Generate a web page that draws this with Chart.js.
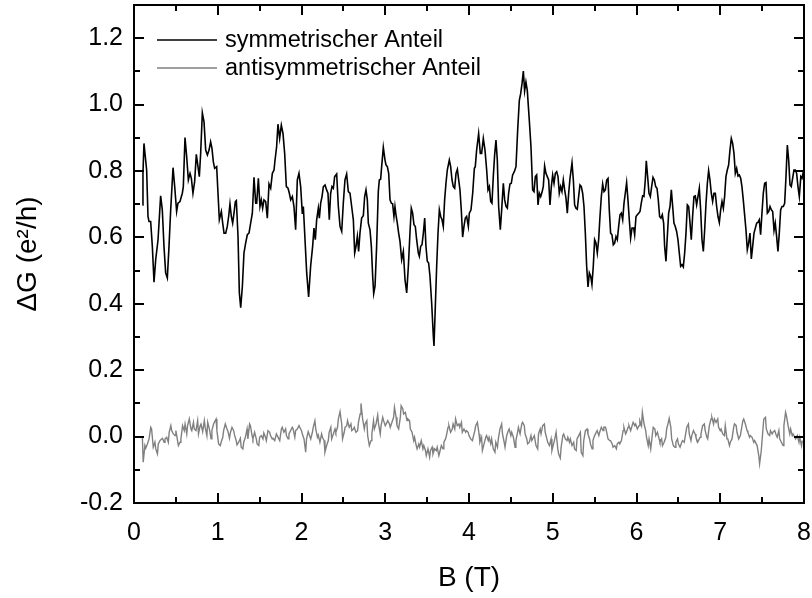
<!DOCTYPE html>
<html>
<head>
<meta charset="utf-8">
<script src="https://cdn.jsdelivr.net/npm/chart.js@4.4.1/dist/chart.umd.min.js"></script>
<style>
  html, body { margin: 0; padding: 0; background: #fff; }
  canvas { display: block; }
</style>
</head>
<body>
<canvas id="leitwertChart" width="812" height="598"></canvas>
<script>
const FONT = '"Liberation Sans", Arial, sans-serif';

// Achsen
const xTicks = [0, 1, 2, 3, 4, 5, 6, 7, 8];
const yTicks = [-0.2, 0, 0.2, 0.4, 0.6, 0.8, 1.0, 1.2];

// symmetrischer Anteil: B (T) und ΔG (e²/h)
const bSym = [
  0.100,0.107,0.119,0.151,0.167,0.179,0.199,0.219,0.239,0.259,
  0.287,0.318,0.338,0.358,0.378,0.398,0.418,0.438,0.466,0.486,
  0.509,0.525,0.549,0.577,0.589,0.609,0.629,0.649,0.669,0.685,
  0.704,0.724,0.744,0.764,0.780,0.796,0.816,0.836,0.856,0.876,
  0.896,0.915,0.931,0.947,0.963,0.987,1.003,1.019,1.043,1.059,
  1.075,1.095,1.114,1.130,1.146,1.162,1.178,1.194,1.210,1.222,
  1.242,1.258,1.274,1.294,1.313,1.333,1.353,1.373,1.393,1.413,
  1.433,1.453,1.465,1.485,1.504,1.520,1.536,1.552,1.572,1.592,
  1.612,1.632,1.652,1.672,1.684,1.703,1.719,1.739,1.759,1.779,
  1.799,1.819,1.839,1.855,1.871,1.891,1.910,1.930,1.950,1.970,
  1.990,2.010,
  2.022,2.042,2.062,2.085,2.109,2.133,2.149,2.165,2.181,2.201,
  2.213,2.229,2.245,2.261,2.281,2.300,2.316,2.332,2.348,2.364,
  2.380,2.396,2.420,2.440,2.460,2.480,2.499,2.519,2.539,2.559,
  2.579,2.599,2.619,2.635,2.651,2.667,2.682,2.698,2.718,2.738,
  2.754,2.770,2.786,2.798,2.818,2.834,2.850,2.862,2.878,2.897,
  2.917,2.929,2.945,2.957,2.977,2.997,3.009,3.025,3.041,3.057,
  3.073,3.088,3.104,3.116,3.128,3.144,3.160,3.176,3.196,3.216,
  3.236,3.256,3.276,3.295,3.311,3.327,3.343,3.359,3.375,3.395,
  3.407,3.423,3.439,3.455,3.471,3.486,3.502,3.518,3.534,3.554,
  3.574,3.582,3.598,3.614,3.630,3.646,3.662,3.678,3.693,3.709,
  3.725,3.741,3.765,3.781,3.797,3.813,3.829,3.845,3.861,3.877,
  3.892,3.908,3.924,3.940,3.956,3.972,3.992,
  4.004,4.024,4.044,4.064,4.075,4.091,4.115,4.135,4.151,4.171,
  4.191,4.211,4.227,4.243,4.259,4.274,4.290,4.306,4.322,4.338,
  4.354,4.374,4.390,4.410,4.426,4.442,4.458,4.473,4.489,4.505,
  4.521,4.541,4.561,4.581,4.601,4.617,4.633,4.649,4.664,4.680,
  4.696,4.720,4.740,4.760,4.776,4.792,4.808,4.824,4.840,4.856,
  4.871,4.887,4.903,4.919,4.935,4.951,4.967,4.983,4.999,5.015,
  5.031,5.047,5.063,5.078,5.094,5.110,5.126,5.142,5.158,5.174,
  5.190,5.206,5.230,5.246,5.261,5.277,5.293,5.309,5.325,5.341,
  5.357,5.373,5.389,5.405,5.421,5.437,5.453,5.468,5.484,5.500,
  5.516,5.532,5.548,5.564,5.580,5.596,5.612,5.628,5.644,5.660,
  5.675,5.691,5.707,5.723,5.739,5.755,5.771,5.787,5.803,5.819,
  5.835,5.851,5.866,5.882,5.898,5.914,5.930,5.946,
  5.966,5.978,5.994,6.010,6.026,6.042,6.057,6.073,6.089,6.105,
  6.117,6.133,6.149,6.165,6.181,6.197,6.213,6.229,6.245,6.260,
  6.276,6.292,6.308,6.324,6.336,6.352,6.368,6.384,6.400,6.416,
  6.432,6.447,6.463,6.479,6.495,6.511,6.527,6.543,6.559,6.575,
  6.591,6.607,6.623,6.639,6.654,6.670,6.686,6.702,6.718,6.734,
  6.750,6.766,6.782,6.798,6.814,6.830,6.846,6.861,6.877,6.893,
  6.909,6.925,6.941,6.957,6.973,6.989,7.005,7.021,7.037,7.052,
  7.068,7.084,7.100,7.116,7.132,7.148,7.164,7.180,7.196,7.212,
  7.228,7.244,7.259,7.275,7.291,7.307,7.323,7.339,7.355,7.371,
  7.387,7.403,7.419,7.435,7.450,7.466,7.482,7.498,7.514,7.530,
  7.546,7.562,7.578,7.594,7.610,7.626,7.642,7.657,7.673,7.689,
  7.705,7.721,7.737,7.753,7.769,7.785,7.801,7.817,7.833,7.848,
  7.864,7.880,7.896,7.912,7.928,7.944,7.962,7.976,7.992
];
const gSym = [
  0.698,0.793,0.883,0.803,0.663,0.648,0.648,0.573,0.465,0.533,
  0.593,0.725,0.683,0.573,0.493,0.478,0.573,0.683,0.810,0.753,
  0.678,0.703,0.708,0.733,0.753,0.901,0.843,0.773,0.793,0.778,
  0.733,0.768,0.850,0.813,0.783,0.853,0.975,0.948,0.863,0.848,
  0.863,0.888,0.868,0.828,0.808,0.813,0.733,0.653,0.678,0.643,
  0.613,0.613,0.633,0.663,0.701,0.663,0.643,0.673,0.708,0.711,
  0.603,0.433,0.388,0.453,0.553,0.583,0.608,0.613,0.643,0.673,
  0.781,0.703,0.703,0.778,0.693,0.713,0.688,0.713,0.708,0.658,
  0.761,0.748,0.793,0.803,0.833,0.873,0.941,0.898,0.938,0.913,
  0.853,0.753,0.748,0.733,0.713,0.723,0.693,0.623,0.773,0.793,
  0.753,0.671,
  0.693,0.593,0.493,0.421,0.513,0.573,0.628,0.593,0.653,0.688,
  0.658,0.703,0.723,0.753,0.758,0.743,0.733,0.653,0.733,0.753,
  0.748,0.783,0.791,0.693,0.633,0.618,0.703,0.773,0.791,0.738,
  0.733,0.693,0.653,0.553,0.573,0.603,0.558,0.613,0.658,0.665,
  0.723,0.743,0.713,0.643,0.623,0.573,0.483,0.431,0.453,0.573,
  0.738,0.773,0.775,0.813,0.871,0.833,0.818,0.813,0.793,0.713,
  0.703,0.701,0.663,0.693,0.668,0.643,0.613,0.588,0.533,0.558,
  0.473,0.433,0.513,0.613,0.688,0.673,0.638,0.633,0.593,0.553,
  0.543,0.573,0.578,0.613,0.658,0.573,0.528,0.523,0.483,0.403,
  0.303,0.273,0.393,0.513,0.613,0.683,0.663,0.653,0.633,0.713,
  0.763,0.803,0.833,0.813,0.773,0.753,0.748,0.793,0.805,0.773,
  0.743,0.683,0.601,0.633,0.658,0.663,0.633,
  0.673,0.683,0.733,0.808,0.813,0.863,0.913,0.853,0.853,0.898,
  0.863,0.803,0.743,0.753,0.708,0.703,0.783,0.848,0.893,0.833,
  0.693,0.623,0.683,0.763,0.713,0.693,0.688,0.733,0.761,0.763,
  0.788,0.798,0.813,0.923,1.013,1.033,1.063,1.101,1.041,1.068,
  1.043,0.953,0.873,0.743,0.738,0.783,0.788,0.698,0.733,0.723,
  0.735,0.753,0.815,0.793,0.783,0.773,0.698,0.753,0.788,0.763,
  0.793,0.798,0.783,0.733,0.753,0.738,0.773,0.743,0.718,0.673,
  0.733,0.778,0.825,0.773,0.698,0.688,0.685,0.723,0.758,0.753,
  0.733,0.693,0.613,0.513,0.451,0.493,0.483,0.458,0.513,0.593,
  0.583,0.553,0.593,0.663,0.723,0.761,0.738,0.743,0.773,0.778,
  0.683,0.613,0.608,0.578,0.583,0.603,0.593,0.633,0.668,0.673,
  0.653,0.703,0.733,0.765,0.713,0.653,0.598,0.628,
  0.628,0.608,0.663,0.668,0.673,0.678,0.703,0.725,0.723,0.773,
  0.831,0.783,0.733,0.723,0.753,0.781,0.773,0.753,0.748,0.713,
  0.663,0.658,0.668,0.643,0.573,0.528,0.603,0.673,0.693,0.743,
  0.693,0.643,0.633,0.618,0.593,0.553,0.513,0.518,0.511,0.553,
  0.613,0.698,0.693,0.643,0.593,0.663,0.723,0.725,0.698,0.723,
  0.748,0.683,0.593,0.558,0.623,0.703,0.763,0.801,0.773,0.733,
  0.708,0.733,0.733,0.693,0.663,0.645,0.683,0.708,0.688,0.723,
  0.783,0.803,0.818,0.863,0.898,0.883,0.853,0.793,0.808,0.785,
  0.788,0.778,0.753,0.713,0.668,0.623,0.563,0.583,0.613,0.535,
  0.573,0.613,0.628,0.643,0.645,0.653,0.608,0.673,0.733,0.763,
  0.765,0.673,0.678,0.693,0.683,0.678,0.621,0.643,0.603,0.558,
  0.613,0.683,0.693,0.693,0.703,0.783,0.878,0.833,0.758,0.753,
  0.778,0.803,0.803,0.793,0.753,0.723,0.783,0.778,0.798
];

// antisymmetrischer Anteil: B (T) und ΔG (e²/h)
const bAnti = [
  0.10,0.11,0.13,0.14,0.16,
  0.18,0.20,0.21,0.23,0.25,0.26,0.28,0.29,0.31,0.33,
  0.34,0.36,0.37,0.39,0.41,0.42,0.44,0.45,0.47,0.49,
  0.50,0.52,0.53,0.55,0.56,0.58,0.60,0.61,0.63,0.64,
  0.66,0.68,0.69,0.71,0.72,0.74,0.76,0.77,0.79,0.80,
  0.82,0.84,0.85,0.87,0.88,0.90,0.92,0.93,0.95,0.96,
  0.98,0.99,1.01,1.03,1.04,1.06,1.07,1.09,1.11,1.12,
  1.14,1.15,1.17,1.19,1.20,1.22,1.23,1.25,1.27,1.28,
  1.30,1.31,1.33,1.35,1.36,1.38,1.39,1.41,1.42,1.44,
  1.46,1.47,1.49,1.50,1.52,1.54,1.55,1.57,1.58,1.60,
  1.62,1.63,1.65,1.66,1.68,1.70,1.71,1.73,1.74,1.76,
  1.77,1.79,1.81,1.82,1.84,1.85,1.87,1.89,1.90,1.92,
  1.93,1.95,1.97,1.98,2.00,2.01,2.03,2.05,2.06,2.08,
  2.09,2.11,2.13,2.14,2.16,2.17,2.19,2.20,2.22,2.24,
  2.25,2.27,2.28,2.30,2.32,2.33,2.35,2.36,2.38,2.40,
  2.41,2.43,2.44,2.46,2.48,2.49,2.51,2.52,2.54,2.55,
  2.57,2.59,2.60,2.62,2.63,2.65,2.67,2.68,2.70,2.71,
  2.73,2.75,2.76,2.78,2.79,2.81,2.83,2.84,2.86,2.87,
  2.89,2.91,2.92,2.94,2.95,2.97,2.98,3.00,3.02,3.03,
  3.05,3.06,3.08,3.10,3.11,3.13,3.14,3.16,3.18,3.19,
  3.21,3.22,3.24,3.26,3.27,3.29,3.30,3.32,3.34,3.35,
  3.37,3.38,3.40,3.41,3.43,3.45,3.46,3.48,3.49,3.51,
  3.53,3.54,3.56,3.57,3.59,3.61,3.62,3.64,3.65,3.67,
  3.69,3.70,3.72,3.73,3.75,3.76,3.78,3.80,3.81,3.83,
  3.84,3.86,3.88,3.89,3.91,3.92,3.94,3.96,3.97,3.99,
  4.00,4.02,4.04,4.05,4.07,4.08,4.10,4.12,4.13,4.15,
  4.16,4.18,4.20,4.21,4.23,4.24,4.26,4.27,4.29,4.31,
  4.32,4.34,4.35,4.37,4.39,4.40,4.42,4.43,4.45,4.47,
  4.48,4.50,4.51,4.53,4.55,4.56,4.58,4.59,4.61,4.63,
  4.64,4.66,4.67,4.69,4.70,4.72,4.74,4.75,4.77,4.78,
  4.80,4.82,4.83,4.85,4.86,4.88,4.90,4.91,4.93,4.94,
  4.96,4.98,4.99,5.01,5.02,5.04,5.06,5.07,5.09,5.10,
  5.12,5.13,5.15,5.17,5.18,5.20,5.21,5.23,5.25,5.26,
  5.28,5.29,5.31,5.33,5.34,5.36,5.37,5.39,5.41,5.42,
  5.44,5.45,5.47,5.48,5.50,5.52,5.53,5.55,5.56,5.58,
  5.60,5.61,5.63,5.64,5.66,5.68,5.69,5.71,5.72,5.74,
  5.76,5.77,5.79,5.80,5.82,5.84,5.85,5.87,5.88,5.90,
  5.91,5.93,5.95,5.96,5.98,5.99,6.01,6.03,6.04,6.06,
  6.07,6.09,6.11,6.12,6.14,6.15,6.17,6.19,6.20,6.22,
  6.23,6.25,6.27,6.28,6.30,6.31,6.33,6.35,6.36,6.38,
  6.39,6.41,6.42,6.44,6.46,6.47,6.49,6.50,6.52,6.54,
  6.55,6.57,6.58,6.60,6.62,6.63,6.65,6.66,6.68,6.70,
  6.71,6.73,6.74,6.76,6.77,6.79,6.81,6.82,6.84,6.85,
  6.87,6.89,6.90,6.92,6.93,6.95,6.97,6.98,7.00,7.01,
  7.03,7.05,7.06,7.08,7.09,7.11,7.12,7.14,7.16,7.17,
  7.19,7.20,7.22,7.24,7.25,7.27,7.28,7.30,7.32,7.33,
  7.35,7.36,7.38,7.40,7.41,7.43,7.44,7.46,7.47,7.49,
  7.51,7.52,7.54,7.55,7.57,7.59,7.60,7.62,7.63,7.65,
  7.67,7.68,7.70,7.71,7.73,7.75,7.76,7.78,7.79,7.81,
  7.83,7.84,7.86,7.87,7.89,7.90,7.92,7.94,7.95,7.97,
  7.98
];
const gAnti = [
  -0.002,-0.077,-0.027,-0.035,-0.022,
  -0.007,0.028,0.023,-0.032,-0.017,-0.037,-0.052,-0.022,-0.012,-0.007,
  -0.005,-0.017,-0.007,-0.002,-0.017,0.013,0.033,0.018,0.008,0.003,
  0.018,-0.012,-0.027,-0.017,-0.007,0.033,0.018,0.038,0.008,0.033,
  0.053,0.023,0.018,0.043,0.023,0.018,0.048,0.008,0.033,0.038,
  0.015,0.048,0.028,0.003,0.043,0.023,-0.007,0.018,0.038,0.043,
  0.053,0.018,-0.022,-0.027,-0.017,-0.002,0.018,0.038,0.023,0.018,
  -0.005,0.011,0.028,0.018,0.005,-0.012,-0.025,-0.017,-0.005,-0.032,
  -0.037,-0.017,-0.002,0.023,-0.007,0.038,0.033,0.003,-0.007,0.013,
  -0.007,-0.022,-0.027,-0.002,0.003,-0.007,0.011,-0.002,-0.012,0.018,
  0.013,0.003,-0.007,-0.005,-0.012,0.008,0.003,-0.007,-0.012,0.023,
  0.028,0.013,0.023,0.003,-0.007,0.008,0.018,0.028,0.023,-0.002,
  0.018,0.023,0.033,0.028,0.018,0.008,-0.007,-0.047,-0.007,0.015,
  0.008,-0.007,0.013,0.028,0.048,0.023,-0.002,0.005,-0.017,0.008,
  -0.002,-0.012,-0.047,-0.027,-0.012,0.013,0.028,-0.007,0.008,0.023,
  0.013,0.028,0.053,0.075,0.038,-0.007,0.013,0.028,0.033,0.048,
  0.028,0.038,0.018,0.023,0.028,0.013,0.018,0.043,0.068,0.100,
  0.053,0.023,0.038,0.048,0.003,-0.027,-0.012,0.008,0.048,0.023,
  0.038,0.065,0.038,0.008,0.033,0.058,0.048,0.033,0.043,0.048,
  0.038,0.028,0.043,0.058,0.088,0.058,0.033,0.023,0.058,0.093,
  0.083,0.068,0.073,0.048,0.053,0.048,0.023,0.013,-0.012,-0.002,
  -0.027,-0.037,-0.022,-0.032,-0.012,-0.037,-0.027,-0.042,-0.057,-0.037,
  -0.062,-0.042,-0.032,-0.052,-0.037,-0.042,-0.032,-0.057,-0.047,-0.027,
  -0.037,-0.017,-0.007,0.003,0.028,0.033,0.013,0.023,0.038,0.023,
  0.053,0.033,0.038,0.028,0.043,0.013,0.023,0.013,0.018,0.013,
  0.003,-0.007,-0.012,-0.002,0.018,0.033,0.043,0.008,-0.017,-0.002,
  -0.042,-0.022,-0.002,0.003,-0.012,-0.002,-0.022,-0.007,-0.037,-0.047,
  -0.017,-0.032,-0.007,0.023,0.038,0.008,-0.017,-0.032,0.003,0.018,
  0.023,0.003,0.013,-0.002,-0.032,-0.012,0.013,0.028,0.008,0.038,
  0.043,0.033,0.008,-0.007,-0.022,-0.017,0.003,-0.012,-0.002,0.003,
  -0.027,-0.037,0.008,0.023,0.008,0.033,0.038,0.013,-0.007,-0.017,
  -0.027,-0.007,-0.042,-0.022,-0.012,0.013,-0.037,-0.052,-0.065,-0.032,
  0.003,0.008,-0.007,-0.012,-0.002,-0.017,-0.007,-0.027,-0.017,-0.037,
  -0.042,-0.007,0.003,0.013,-0.047,-0.057,-0.012,0.018,0.023,0.008,
  -0.007,-0.022,-0.037,-0.012,0.003,0.013,0.018,0.003,0.013,0.028,
  0.018,0.028,0.028,0.018,-0.007,-0.012,-0.012,-0.022,-0.032,-0.027,
  -0.037,-0.022,-0.017,-0.022,-0.012,0.018,0.028,0.008,0.013,0.028,
  0.033,0.018,0.035,0.043,0.033,0.038,0.023,0.033,0.048,0.033,
  0.073,0.038,0.018,-0.002,-0.027,-0.007,-0.037,0.008,0.028,0.023,
  0.003,0.013,-0.007,-0.017,-0.007,-0.027,-0.017,-0.002,0.023,0.043,
  0.055,0.028,-0.007,-0.027,-0.032,-0.017,-0.007,-0.022,-0.032,-0.017,
  -0.012,-0.017,-0.002,0.028,0.038,0.008,-0.012,0.003,0.018,0.008,
  -0.002,-0.017,-0.012,-0.002,0.008,0.033,0.038,0.018,-0.002,-0.007,
  0.033,0.053,0.058,0.038,0.053,0.043,0.053,0.028,0.018,0.023,
  0.008,0.003,0.033,-0.007,-0.007,-0.027,-0.017,-0.007,0.028,0.038,
  0.033,0.013,-0.007,0.003,0.018,0.048,0.053,0.038,0.018,0.013,
  -0.002,0.003,-0.002,-0.017,-0.012,-0.022,-0.027,-0.057,-0.082,-0.042,
  0.023,0.053,0.058,0.023,0.008,0.003,0.018,0.008,0.013,0.018,
  0.003,-0.002,0.018,-0.007,-0.017,-0.027,0.033,0.073,0.063,0.033,
  0.008,0.023,0.003,0.008,-0.002,-0.007,0.003,-0.017,-0.002,-0.027,
  -0.012
];

const toPoints = (bs, gs) => bs.map((b, i) => ({ x: b, y: gs[i] }));

// Rahmen mit nach innen zeigenden Teilstrichen auf allen vier Seiten
const rahmen = {
  id: 'rahmen',
  afterDatasetsDraw(chart) {
    const { ctx, chartArea: a, scales: { x, y } } = chart;
    ctx.save();
    ctx.strokeStyle = '#000';
    ctx.lineWidth = 2;
    ctx.beginPath();
    for (let i = 0; i <= 16; i++) {
      const px = Math.round(x.getPixelForValue(i / 2));
      const len = i % 2 === 0 ? 10 : 6;
      ctx.moveTo(px, a.bottom); ctx.lineTo(px, a.bottom - len);
      ctx.moveTo(px, a.top); ctx.lineTo(px, a.top + len);
    }
    for (let i = -2; i <= 13; i++) {
      const py = Math.round(y.getPixelForValue(i / 10));
      const len = i % 2 === 0 ? 10 : 6;
      ctx.moveTo(a.left, py); ctx.lineTo(a.left + len, py);
      ctx.moveTo(a.right, py); ctx.lineTo(a.right - len, py);
    }
    ctx.stroke();
    ctx.strokeRect(a.left, a.top, a.right - a.left, a.bottom - a.top);
    ctx.restore();
  }
};

// Legende oben links im Diagramm
const legende = {
  id: 'legende',
  afterDraw(chart) {
    const { ctx, chartArea: a } = chart;
    ctx.save();
    ctx.font = '23.5px ' + FONT;
    ctx.textBaseline = 'middle';
    ctx.fillStyle = '#000';
    chart.data.datasets.forEach((ds, i) => {
      const yy = a.top + 35 + i * 28;
      ctx.strokeStyle = ds.borderColor;
      ctx.lineWidth = ds.borderWidth;
      ctx.beginPath();
      ctx.moveTo(a.left + 23, yy);
      ctx.lineTo(a.left + 83, yy);
      ctx.stroke();
      ctx.fillText(ds.label, a.left + 91, yy + 1);
    });
    ctx.restore();
  }
};

new Chart(document.getElementById('leitwertChart'), {
  type: 'line',
  data: {
    datasets: [
      {
        label: 'symmetrischer Anteil',
        data: toPoints(bSym, gSym),
        borderColor: '#000000',
        borderWidth: 1.6,
        pointRadius: 0,
        tension: 0
      },
      {
        label: 'antisymmetrischer Anteil',
        data: toPoints(bAnti, gAnti),
        borderColor: '#808080',
        borderWidth: 1.4,
        pointRadius: 0,
        tension: 0
      }
    ]
  },
  options: {
    responsive: false,
    animation: false,
    layout: { padding: { top: 5, right: 8, left: 0, bottom: 0 } },
    plugins: { legend: { display: false }, tooltip: { enabled: false } },
    scales: {
      x: {
        type: 'linear',
        min: 0,
        max: 8,
        afterBuildTicks: s => { s.ticks = xTicks.map(v => ({ value: v })); },
        afterFit: s => {
          s.height = 95;
          s.paddingLeft = 0; s.paddingRight = 0;
        },
        grid: { display: false, drawTicks: false },
        border: { display: false },
        ticks: {
          autoSkip: false,
          maxRotation: 0,
          padding: 15,
          color: '#000',
          font: { family: FONT, size: 25 },
          callback: v => String(v)
        },
        title: {
          display: true,
          text: 'B (T)',
          color: '#000',
          font: { family: FONT, size: 28 },
          padding: { top: 0, bottom: 3 }
        }
      },
      y: {
        min: -0.2,
        max: 1.3,
        afterBuildTicks: s => { s.ticks = yTicks.map(v => ({ value: v })); },
        afterFit: s => {
          s.width = 134;
          s.paddingTop = 0; s.paddingBottom = 0;
        },
        grid: { display: false, drawTicks: false },
        border: { display: false },
        ticks: {
          padding: 11,
          color: '#000',
          font: { family: FONT, size: 25 },
          callback: v => v.toFixed(1)
        },
        title: {
          display: true,
          text: 'ΔG (e²/h)',
          color: '#000',
          font: { family: FONT, size: 28 },
          padding: { top: 11, bottom: 0 }
        }
      }
    }
  },
  plugins: [rahmen, legende]
});
</script>
</body>
</html>
